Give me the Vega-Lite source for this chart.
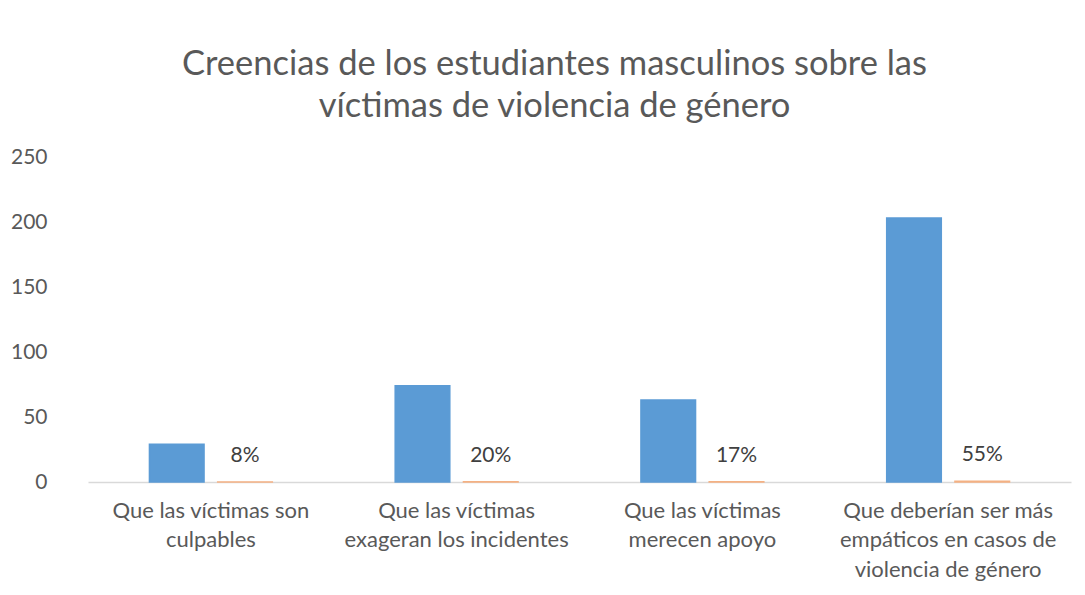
{
  "$schema": "https://vega.github.io/schema/vega-lite/v6.json",
  "width": 983,
  "height": 325,
  "autosize": {"type": "none"},
  "padding": {"left": 88, "top": 157, "right": 14, "bottom": 113},
  "background": "white",
  "title": {
    "text": ["Creencias de los estudiantes masculinos sobre las", "víctimas de violencia de género"],
    "font": "Lato",
    "fontSize": 34.5,
    "fontWeight": "normal",
    "color": "#595959",
    "lineHeight": 42,
    "anchor": "middle",
    "dx": -25,
    "offset": 22
  },
  "config": {
    "view": {"stroke": null},
    "text": {"font": "Lato"}
  },
  "data": {
    "values": [
      {"categoria": "Que las víctimas son|culpables", "serie": "Frecuencia", "valor": 29, "etiqueta": ""},
      {"categoria": "Que las víctimas son|culpables", "serie": "Porcentaje", "valor": 0.08, "etiqueta": "8%"},
      {"categoria": "Que las víctimas|exageran los incidentes", "serie": "Frecuencia", "valor": 74, "etiqueta": ""},
      {"categoria": "Que las víctimas|exageran los incidentes", "serie": "Porcentaje", "valor": 0.20, "etiqueta": "20%"},
      {"categoria": "Que las víctimas|merecen apoyo", "serie": "Frecuencia", "valor": 63, "etiqueta": ""},
      {"categoria": "Que las víctimas|merecen apoyo", "serie": "Porcentaje", "valor": 0.17, "etiqueta": "17%"},
      {"categoria": "Que deberían ser más|empáticos en casos de|violencia de género", "serie": "Frecuencia", "valor": 203, "etiqueta": ""},
      {"categoria": "Que deberían ser más|empáticos en casos de|violencia de género", "serie": "Porcentaje", "valor": 0.55, "etiqueta": "55%"}
    ]
  },
  "encoding": {
    "x": {
      "field": "categoria",
      "type": "nominal",
      "sort": null,
      "title": null,
      "scale": {"paddingInner": 0.5, "paddingOuter": 0.25},
      "axis": {
        "labelExpr": "split(datum.label, '|')",
        "labelAngle": 0,
        "labelFont": "Lato",
        "labelFontSize": 22,
        "labelColor": "#595959",
        "labelLineHeight": 29.5,
        "labelLimit": 0,
        "labelPadding": 18,
        "ticks": false,
        "tickSize": 0,
        "domainColor": "#d9d9d9",
        "domainWidth": 1.5,
        "grid": false
      }
    },
    "xOffset": {
      "field": "serie",
      "type": "nominal",
      "scale": {"domain": ["Frecuencia", "Porcentaje"], "paddingInner": 0.2, "paddingOuter": 0}
    },
    "y": {
      "field": "valor",
      "type": "quantitative",
      "title": null,
      "scale": {"domain": [0, 250], "nice": false},
      "axis": {
        "values": [0, 50, 100, 150, 200, 250],
        "labelFont": "Lato",
        "labelFontSize": 21,
        "labelColor": "#595959",
        "labelPadding": 41,
        "ticks": false,
        "tickSize": 0,
        "domain": false,
        "grid": false
      }
    }
  },
  "layer": [
    {
      "mark": {"type": "bar", "strokeWidth": 1.5},
      "encoding": {
        "color": {
          "field": "serie",
          "type": "nominal",
          "scale": {"domain": ["Frecuencia", "Porcentaje"], "range": ["#5B9BD5", "#ED7D31"]},
          "legend": null
        },
        "stroke": {
          "field": "serie",
          "type": "nominal",
          "scale": {"domain": ["Frecuencia", "Porcentaje"], "range": ["#5B9BD5", "#F4B183"]},
          "legend": null
        }
      }
    },
    {
      "transform": [{"filter": "datum.serie === 'Porcentaje'"}],
      "mark": {"type": "text", "dy": -26, "baseline": "middle", "align": "center", "fontSize": 21, "color": "#404040", "font": "Lato"},
      "encoding": {
        "text": {"field": "etiqueta"}
      }
    }
  ]
}
